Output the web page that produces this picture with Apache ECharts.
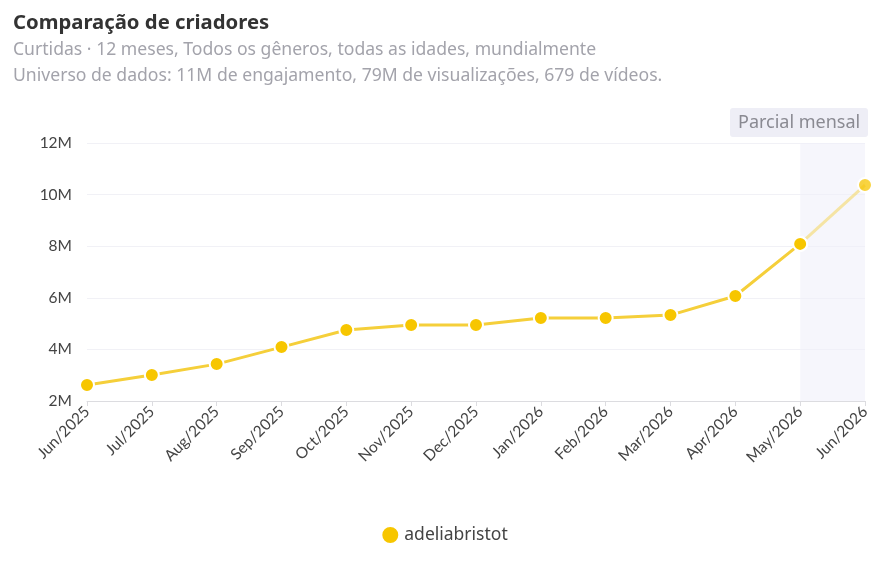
<!DOCTYPE html>
<html>
<head>
<meta charset="utf-8">
<script src="https://cdn.jsdelivr.net/npm/echarts@6/dist/echarts.min.js"></script>
<style>
  html, body { margin: 0; padding: 0; background: #fff; }
  #chart { width: 888px; height: 572px; }
</style>
</head>
<body>
<div id="chart"></div>
<script>
var months = ['Jun/2025', 'Jul/2025', 'Aug/2025', 'Sep/2025', 'Oct/2025', 'Nov/2025', 'Dec/2025',
              'Jan/2026', 'Feb/2026', 'Mar/2026', 'Apr/2026', 'May/2026', 'Jun/2026'];
var likes = [2.62, 3.01, 3.43, 4.09, 4.75, 4.95, 4.95, 5.22, 5.22, 5.33, 6.07, 8.09, 10.37];
var creator = 'adeliabristot';
var partialFrom = 11; // index where the partial month segment begins

var full = likes.map(function (v, i) { return i <= partialFrom ? v : null; });
var partial = likes.map(function (v, i) { return i >= partialFrom ? v : null; });

var font = '"Noto Sans", Lato, sans-serif';
var axisFont = 'Lato, "Noto Sans", sans-serif';
var chart = echarts.init(document.getElementById('chart'), null, {renderer: 'canvas'});

chart.setOption({
    textStyle: {fontFamily: font},
    title: {
        text: 'Comparação de criadores',
        subtext: 'Curtidas · 12 meses, Todos os gêneros, todas as idades, mundialmente\nUniverso de dados: 11M de engajamento, 79M de visualizações, 679 de vídeos.',
        left: 8,
        top: 8,
        itemGap: 4,
        textStyle: {fontSize: 20.3, fontWeight: 'bold', color: '#333', fontFamily: font},
        subtextStyle: {fontSize: 17.6, color: '#a3a3ab', lineHeight: 26, fontFamily: font}
    },
    graphic: [{
        type: 'group',
        right: 20,
        top: 108,
        children: [
            {type: 'rect', shape: {x: 0, y: 0, width: 138, height: 29, r: 3}, style: {fill: '#eeeef6'}},
            {type: 'text', left: 8, top: 6, style: {text: 'Parcial mensal', fill: '#8a8a92', font: '18px ' + font}}
        ]
    }],
    legend: {
        bottom: 22,
        icon: 'circle',
        itemWidth: 18,
        itemHeight: 18,
        itemGap: 6,
        textStyle: {fontSize: 17.5, color: '#444', fontFamily: font},
        data: [{name: creator, itemStyle: {color: '#f7c600'}}]
    },
    grid: {left: 87, right: 23, top: 143, bottom: 171, containLabel: false},
    xAxis: {
        type: 'category',
        data: months,
        boundaryGap: false,
        axisLine: {lineStyle: {color: '#dcdce0'}},
        axisTick: {show: true, alignWithLabel: true, lineStyle: {color: '#dcdce0'}},
        axisLabel: {rotate: 45, fontSize: 15.5, color: '#444', margin: 8, interval: 0, fontFamily: axisFont}
    },
    yAxis: {
        type: 'value',
        min: 2,
        max: 12,
        interval: 2,
        axisLine: {show: false},
        axisTick: {show: false},
        splitLine: {lineStyle: {color: '#f1f1f6'}},
        axisLabel: {fontSize: 15.5, color: '#444', margin: 15, fontFamily: axisFont,
                    formatter: function (v) { return v + 'M'; }}
    },
    series: [{
        name: creator,
        type: 'line',
        data: full,
        symbol: 'circle',
        symbolSize: 14,
        showAllSymbol: true,
        lineStyle: {width: 3, color: '#f5cf3a'},
        itemStyle: {color: '#f7c600', borderColor: '#fff', borderWidth: 2},
        markArea: {
            silent: true,
            itemStyle: {color: 'rgba(240,240,250,0.6)'},
            data: [[{xAxis: months[partialFrom]}, {xAxis: months[months.length - 1]}]]
        },
        z: 3
    }, {
        name: creator,
        type: 'line',
        data: partial,
        symbol: 'circle',
        symbolSize: 14,
        lineStyle: {width: 3, color: 'rgba(245,207,58,0.45)'},
        itemStyle: {color: 'rgba(247,198,0,0.75)', borderColor: '#fff', borderWidth: 2},
        z: 2
    }]
});
</script>
</body>
</html>
